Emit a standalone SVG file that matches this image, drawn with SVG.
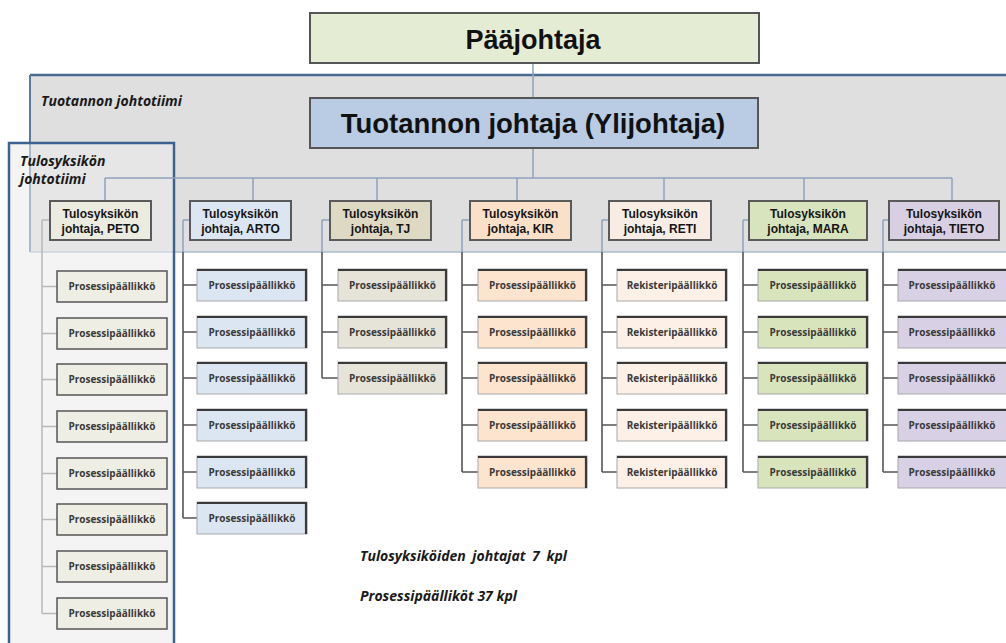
<svg xmlns="http://www.w3.org/2000/svg" width="1006" height="643" viewBox="0 0 1006 643">
<style>
.top{stroke:#555;stroke-width:2}
.unit rect{stroke:#5a5a5a;stroke-width:2}
.ut{font-family:"Liberation Sans",Arial,sans-serif;font-weight:bold;font-size:12px;fill:#151515;text-anchor:middle}
.cb{stroke:#a8a8a8;stroke-width:1}
.ce{fill:none;stroke:#3a3a3a;stroke-width:2.2}
.ct{font-family:"Open Sans","Liberation Sans",sans-serif;font-weight:bold;font-size:10px;fill:#3a3a3a;text-anchor:middle}
.pb{stroke:#555;stroke-width:1.5}
.lab{font-family:"Open Sans","Liberation Sans",sans-serif;font-weight:bold;font-style:italic;font-size:14px;fill:#1a1a1a}
.cl{stroke:#8ea3bd;stroke-width:1.5;fill:none}
.cd{stroke:#555;stroke-width:1.6;fill:none}
.cg{stroke:#b8b8b8;stroke-width:1.5;fill:none}
</style>
<rect width="1006" height="643" fill="#ffffff"/>
<g id="team-tuotanto">
<rect x="30" y="75" width="990" height="177" fill="#dfdfdf"/>
<line x1="30" y1="75" x2="1006" y2="75" stroke="#4a6a91" stroke-width="2.5"/>
<line x1="30" y1="75" x2="30" y2="252" stroke="#5a7aa2" stroke-width="2"/>
<line x1="30" y1="252" x2="1006" y2="252" stroke="#a9bbd1" stroke-width="1.5"/>
<text class="lab" x="41" y="106" font-size="14.5">Tuotannon johtotiimi</text>
</g>
<g id="team-tulosyksikko">
<rect x="9" y="143" width="165" height="520" fill="#ebebeb" fill-opacity="0.55" stroke="#3d6191" stroke-width="2.5"/>
<text class="lab" x="20" y="166" font-size="15">Tulosyksikön</text>
<text class="lab" x="20" y="184" font-size="15">johtotiimi</text>
</g>
<g id="connectors">
<path class="cl" d="M533 63V98M533 148V178M105 178H952M105 178V201M253 178V201M377 178V201M517 178V201M664 178V201M804 178V201M952 178V201"/>
<path class="cg" d="M42 220H50M42 220V613.5M42 286.5H57M42 333.5H57M42 379.5H57M42 426.5H57M42 473.5H57M42 519.5H57M42 566.5H57M42 613.5H57"/>
<path class="cl" d="M183 220H190M183 220V252M322 220H330M322 220V252M462 220H470M462 220V252M602 220H609M602 220V252M743 220H749M743 220V252M883 220H889M883 220V252"/>
<path class="cd" d="M183 252V518M183 285H197M183 332H197M183 378H197M183 425H197M183 472H197M183 518H197"/>
<path class="cd" d="M322 252V378M322 285H338M322 332H338M322 378H338"/>
<path class="cd" d="M462 252V472M462 285H478M462 332H478M462 378H478M462 425H478M462 472H478"/>
<path class="cd" d="M602 252V472M602 285H617M602 332H617M602 378H617M602 425H617M602 472H617"/>
<path class="cd" d="M743 252V472M743 285H758M743 332H758M743 378H758M743 425H758M743 472H758"/>
<path class="cd" d="M883 252V472M883 285H898M883 332H898M883 378H898M883 425H898M883 472H898"/>
</g>
<g id="paajohtaja">
<rect class="top" x="310" y="13" width="449" height="50" fill="#e4ecd4"/>
<text x="533" y="49" font-family="'Liberation Sans',Arial,sans-serif" font-weight="bold" font-size="27" fill="#111" text-anchor="middle">Pääjohtaja</text>
</g>
<g id="tuotannon-johtaja">
<rect class="top" x="310" y="98" width="448" height="50" fill="#b9cce3"/>
<text x="533" y="133" font-family="'Liberation Sans',Arial,sans-serif" font-weight="bold" font-size="27.5" fill="#111" text-anchor="middle">Tuotannon johtaja (Ylijohtaja)</text>
</g>
<g id="unit-peto" class="unit"><rect x="50" y="201" width="101" height="39" fill="#ebebdf"/><text class="ut" x="100.5" y="218">Tulosyksikön</text><text class="ut" x="100.5" y="233">johtaja, PETO</text></g>
<g id="unit-arto" class="unit"><rect x="190" y="201" width="101" height="39" fill="#dce6f2"/><text class="ut" x="240.5" y="218">Tulosyksikön</text><text class="ut" x="240.5" y="233">johtaja, ARTO</text></g>
<g id="unit-tj" class="unit"><rect x="330" y="201" width="101" height="39" fill="#ddd9c3"/><text class="ut" x="380.5" y="218">Tulosyksikön</text><text class="ut" x="380.5" y="233">johtaja, TJ</text></g>
<g id="unit-kir" class="unit"><rect x="470" y="201" width="101" height="39" fill="#fbe0c9"/><text class="ut" x="520.5" y="218">Tulosyksikön</text><text class="ut" x="520.5" y="233">johtaja, KIR</text></g>
<g id="unit-reti" class="unit"><rect x="609" y="201" width="102" height="39" fill="#f7ede4"/><text class="ut" x="660" y="218">Tulosyksikön</text><text class="ut" x="660" y="233">johtaja, RETI</text></g>
<g id="unit-mara" class="unit"><rect x="749" y="201" width="118" height="39" fill="#d7e4bd"/><text class="ut" x="808" y="218">Tulosyksikön</text><text class="ut" x="808" y="233">johtaja, MARA</text></g>
<g id="unit-tieto" class="unit"><rect x="889" y="201" width="110" height="39" fill="#d8cfe3"/><text class="ut" x="944" y="218">Tulosyksikön</text><text class="ut" x="944" y="233">johtaja, TIETO</text></g>
<g id="peto-children">
<g id="peto-1"><rect class="pb" x="57" y="271" width="110" height="31" fill="#eeeee4"/><text class="ct" x="112" y="290">Prosessipäällikkö</text></g>
<g id="peto-2"><rect class="pb" x="57" y="318" width="110" height="31" fill="#eeeee4"/><text class="ct" x="112" y="337">Prosessipäällikkö</text></g>
<g id="peto-3"><rect class="pb" x="57" y="364" width="110" height="31" fill="#eeeee4"/><text class="ct" x="112" y="383">Prosessipäällikkö</text></g>
<g id="peto-4"><rect class="pb" x="57" y="411" width="110" height="31" fill="#eeeee4"/><text class="ct" x="112" y="430">Prosessipäällikkö</text></g>
<g id="peto-5"><rect class="pb" x="57" y="458" width="110" height="31" fill="#eeeee4"/><text class="ct" x="112" y="477">Prosessipäällikkö</text></g>
<g id="peto-6"><rect class="pb" x="57" y="504" width="110" height="31" fill="#eeeee4"/><text class="ct" x="112" y="523">Prosessipäällikkö</text></g>
<g id="peto-7"><rect class="pb" x="57" y="551" width="110" height="31" fill="#eeeee4"/><text class="ct" x="112" y="570">Prosessipäällikkö</text></g>
<g id="peto-8"><rect class="pb" x="57" y="598" width="110" height="31" fill="#eeeee4"/><text class="ct" x="112" y="617">Prosessipäällikkö</text></g>
</g>
<g id="arto-children">
<g id="arto-1"><rect class="cb" x="197" y="269" width="110" height="32" fill="#dce6f2"/><path class="ce" d="M197 270H306V301"/><text class="ct" x="252" y="289">Prosessipäällikkö</text></g>
<g id="arto-2"><rect class="cb" x="197" y="316" width="110" height="32" fill="#dce6f2"/><path class="ce" d="M197 317H306V348"/><text class="ct" x="252" y="336">Prosessipäällikkö</text></g>
<g id="arto-3"><rect class="cb" x="197" y="362" width="110" height="32" fill="#dce6f2"/><path class="ce" d="M197 363H306V394"/><text class="ct" x="252" y="382">Prosessipäällikkö</text></g>
<g id="arto-4"><rect class="cb" x="197" y="409" width="110" height="32" fill="#dce6f2"/><path class="ce" d="M197 410H306V441"/><text class="ct" x="252" y="429">Prosessipäällikkö</text></g>
<g id="arto-5"><rect class="cb" x="197" y="456" width="110" height="32" fill="#dce6f2"/><path class="ce" d="M197 457H306V488"/><text class="ct" x="252" y="476">Prosessipäällikkö</text></g>
<g id="arto-6"><rect class="cb" x="197" y="502" width="110" height="32" fill="#dce6f2"/><path class="ce" d="M197 503H306V534"/><text class="ct" x="252" y="522">Prosessipäällikkö</text></g>
</g>
<g id="tj-children">
<g id="tj-1"><rect class="cb" x="338" y="269" width="109" height="32" fill="#e6e4d8"/><path class="ce" d="M338 270H446V301"/><text class="ct" x="392.5" y="289">Prosessipäällikkö</text></g>
<g id="tj-2"><rect class="cb" x="338" y="316" width="109" height="32" fill="#e6e4d8"/><path class="ce" d="M338 317H446V348"/><text class="ct" x="392.5" y="336">Prosessipäällikkö</text></g>
<g id="tj-3"><rect class="cb" x="338" y="362" width="109" height="32" fill="#e6e4d8"/><path class="ce" d="M338 363H446V394"/><text class="ct" x="392.5" y="382">Prosessipäällikkö</text></g>
</g>
<g id="kir-children">
<g id="kir-1"><rect class="cb" x="478" y="269" width="109" height="32" fill="#fde4cf"/><path class="ce" d="M478 270H586V301"/><text class="ct" x="532.5" y="289">Prosessipäällikkö</text></g>
<g id="kir-2"><rect class="cb" x="478" y="316" width="109" height="32" fill="#fde4cf"/><path class="ce" d="M478 317H586V348"/><text class="ct" x="532.5" y="336">Prosessipäällikkö</text></g>
<g id="kir-3"><rect class="cb" x="478" y="362" width="109" height="32" fill="#fde4cf"/><path class="ce" d="M478 363H586V394"/><text class="ct" x="532.5" y="382">Prosessipäällikkö</text></g>
<g id="kir-4"><rect class="cb" x="478" y="409" width="109" height="32" fill="#fde4cf"/><path class="ce" d="M478 410H586V441"/><text class="ct" x="532.5" y="429">Prosessipäällikkö</text></g>
<g id="kir-5"><rect class="cb" x="478" y="456" width="109" height="32" fill="#fde4cf"/><path class="ce" d="M478 457H586V488"/><text class="ct" x="532.5" y="476">Prosessipäällikkö</text></g>
</g>
<g id="reti-children">
<g id="reti-1"><rect class="cb" x="617" y="269" width="110" height="32" fill="#fdf1e7"/><path class="ce" d="M617 270H726V301"/><text class="ct" x="672" y="289">Rekisteripäällikkö</text></g>
<g id="reti-2"><rect class="cb" x="617" y="316" width="110" height="32" fill="#fdf1e7"/><path class="ce" d="M617 317H726V348"/><text class="ct" x="672" y="336">Rekisteripäällikkö</text></g>
<g id="reti-3"><rect class="cb" x="617" y="362" width="110" height="32" fill="#fdf1e7"/><path class="ce" d="M617 363H726V394"/><text class="ct" x="672" y="382">Rekisteripäällikkö</text></g>
<g id="reti-4"><rect class="cb" x="617" y="409" width="110" height="32" fill="#fdf1e7"/><path class="ce" d="M617 410H726V441"/><text class="ct" x="672" y="429">Rekisteripäällikkö</text></g>
<g id="reti-5"><rect class="cb" x="617" y="456" width="110" height="32" fill="#fdf1e7"/><path class="ce" d="M617 457H726V488"/><text class="ct" x="672" y="476">Rekisteripäällikkö</text></g>
</g>
<g id="mara-children">
<g id="mara-1"><rect class="cb" x="758" y="269" width="110" height="32" fill="#d8e4bc"/><path class="ce" d="M758 270H867V301"/><text class="ct" x="813" y="289">Prosessipäällikkö</text></g>
<g id="mara-2"><rect class="cb" x="758" y="316" width="110" height="32" fill="#d8e4bc"/><path class="ce" d="M758 317H867V348"/><text class="ct" x="813" y="336">Prosessipäällikkö</text></g>
<g id="mara-3"><rect class="cb" x="758" y="362" width="110" height="32" fill="#d8e4bc"/><path class="ce" d="M758 363H867V394"/><text class="ct" x="813" y="382">Prosessipäällikkö</text></g>
<g id="mara-4"><rect class="cb" x="758" y="409" width="110" height="32" fill="#d8e4bc"/><path class="ce" d="M758 410H867V441"/><text class="ct" x="813" y="429">Prosessipäällikkö</text></g>
<g id="mara-5"><rect class="cb" x="758" y="456" width="110" height="32" fill="#d8e4bc"/><path class="ce" d="M758 457H867V488"/><text class="ct" x="813" y="476">Prosessipäällikkö</text></g>
</g>
<g id="tieto-children">
<g id="tieto-1"><rect class="cb" x="898" y="269" width="110" height="32" fill="#d8d0e5"/><path class="ce" d="M898 270H1006"/><text class="ct" x="952" y="289">Prosessipäällikkö</text></g>
<g id="tieto-2"><rect class="cb" x="898" y="316" width="110" height="32" fill="#d8d0e5"/><path class="ce" d="M898 317H1006"/><text class="ct" x="952" y="336">Prosessipäällikkö</text></g>
<g id="tieto-3"><rect class="cb" x="898" y="362" width="110" height="32" fill="#d8d0e5"/><path class="ce" d="M898 363H1006"/><text class="ct" x="952" y="382">Prosessipäällikkö</text></g>
<g id="tieto-4"><rect class="cb" x="898" y="409" width="110" height="32" fill="#d8d0e5"/><path class="ce" d="M898 410H1006"/><text class="ct" x="952" y="429">Prosessipäällikkö</text></g>
<g id="tieto-5"><rect class="cb" x="898" y="456" width="110" height="32" fill="#d8d0e5"/><path class="ce" d="M898 457H1006"/><text class="ct" x="952" y="476">Prosessipäällikkö</text></g>
</g>
<g id="summary">
<text class="lab" x="360" y="561" word-spacing="3">Tulosyksiköiden johtajat 7 kpl</text>
<text class="lab" x="360" y="601">Prosessipäälliköt 37 kpl</text>
</g>
</svg>
